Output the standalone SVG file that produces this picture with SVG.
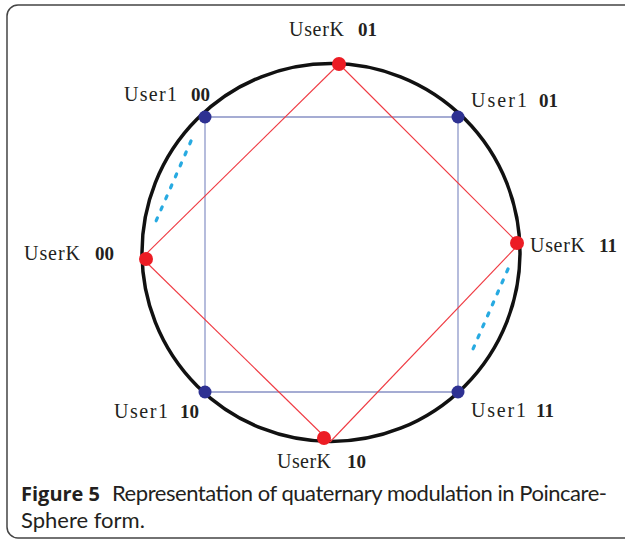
<svg xmlns="http://www.w3.org/2000/svg" width="625" height="542" viewBox="0 0 625 542">
<style>
.lbl{font-family:"Liberation Serif","Times New Roman",serif;font-size:20px;fill:#231f20}
.bit{font-family:"Liberation Serif","Times New Roman",serif;font-size:19px;font-weight:bold;fill:#231f20}
.cap{font-family:Lato,"Open Sans","Liberation Sans",sans-serif;font-size:22px;fill:#231f20}
.capb{font-family:"Open Sans","Noto Sans","Liberation Sans",sans-serif;font-size:20px;font-weight:bold;fill:#231f20}
.red{fill:#ec1c24}
.blue{fill:#2e3192}
.rl{stroke:#ef3a42;stroke-width:1.1}
.dots{fill:none;stroke:#27aae1;stroke-width:3.2;stroke-linecap:round;stroke-dasharray:3 9}
</style>
<rect x="7" y="5" width="640" height="533" rx="11" fill="#fff" stroke="#444" stroke-width="1.5"/>
<g id="connectors">
<circle cx="331" cy="252.5" r="189" fill="none" stroke="#111" stroke-width="3.5"/>
<line x1="205" y1="117" x2="458" y2="117" stroke="#4d5aa8" stroke-width="1.1"/>
<line x1="205" y1="392" x2="458" y2="392" stroke="#4d5aa8" stroke-width="1.1"/>
<line x1="205" y1="117" x2="205" y2="392" stroke="#8e98c9" stroke-width="1.3"/>
<line x1="458" y1="117" x2="458" y2="392" stroke="#8e98c9" stroke-width="1.3"/>
<line class="rl" x1="339" y1="64" x2="519" y2="244"/>
<line class="rl" x1="519" y1="244" x2="330" y2="442"/>
<line class="rl" x1="330" y1="442" x2="142" y2="258"/>
<line class="rl" x1="142" y1="258" x2="339" y2="64"/>
<line class="dots" x1="191" y1="141" x2="153" y2="228"/>
<line class="dots" x1="508" y1="269" x2="470" y2="356"/>
</g>
<g id="userK-01"><circle class="red" cx="339" cy="64" r="7"/><text class="lbl" x="289" y="36" textLength="55" lengthAdjust="spacing">UserK</text><text class="bit" x="358" y="36">01</text></g>
<g id="userK-00"><circle class="red" cx="146" cy="259" r="7"/><text class="lbl" x="24" y="260" textLength="56" lengthAdjust="spacing">UserK</text><text class="bit" x="95" y="260">00</text></g>
<g id="userK-11"><circle class="red" cx="517" cy="243" r="7"/><text class="lbl" x="530" y="252" textLength="55" lengthAdjust="spacing">UserK</text><text class="bit" x="599" y="252">11</text></g>
<g id="userK-10"><circle class="red" cx="324" cy="438" r="7"/><text class="lbl" x="277" y="468" textLength="54" lengthAdjust="spacing">UserK</text><text class="bit" x="347" y="468">10</text></g>
<g id="user1-00"><circle class="blue" cx="205" cy="117" r="6.5"/><text class="lbl" x="124" y="101" textLength="53" lengthAdjust="spacing">User1</text><text class="bit" x="191" y="101">00</text></g>
<g id="user1-01"><circle class="blue" cx="458" cy="117" r="6.5"/><text class="lbl" x="471" y="107" textLength="56" lengthAdjust="spacing">User1</text><text class="bit" x="539" y="107">01</text></g>
<g id="user1-10"><circle class="blue" cx="205" cy="392" r="6.5"/><text class="lbl" x="114" y="418" textLength="54" lengthAdjust="spacing">User1</text><text class="bit" x="180" y="418">10</text></g>
<g id="user1-11"><circle class="blue" cx="458" cy="392" r="6.5"/><text class="lbl" x="471" y="417" textLength="55" lengthAdjust="spacing">User1</text><text class="bit" x="536" y="417">11</text></g>
<g id="caption">
<text class="capb" x="21" y="501">Figure 5</text>
<text class="cap" x="112" y="501" textLength="495" lengthAdjust="spacing">Representation of quaternary modulation in Poincare-</text>
<text class="cap" x="21" y="528">Sphere form.</text>
</g>
</svg>
